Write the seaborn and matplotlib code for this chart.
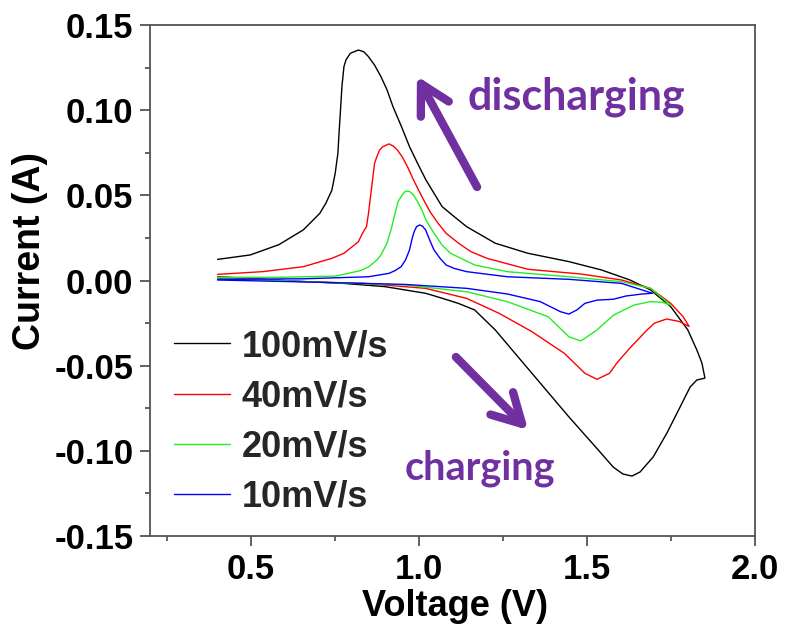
import numpy as np
import pandas as pd
import matplotlib
matplotlib.use("Agg")
import matplotlib.pyplot as plt
from matplotlib.ticker import MultipleLocator, FixedLocator
import seaborn as sns

# ---------------- data ----------------
rates = ["100mV/s", "40mV/s", "20mV/s", "10mV/s"]
colors = ["#000000", "#FF0000", "#22EE22", "#0000FF"]

v100 = [0.401, 0.498, 0.583, 0.656, 0.705, 0.723, 0.741, 0.751, 0.759, 0.763, 0.768, 0.771, 0.777, 0.783,
        0.796, 0.820, 0.836, 0.850, 0.868, 0.887, 0.905, 0.923, 0.948, 0.972, 0.996, 1.021, 1.045, 1.069,
        1.105, 1.142, 1.227, 1.324, 1.446, 1.543, 1.628, 1.689, 1.749, 1.800, 1.827, 1.842, 1.851,
        1.827, 1.807, 1.777, 1.738, 1.697, 1.658, 1.634, 1.607, 1.578, 1.539, 1.446, 1.324, 1.227,
        1.166, 1.117, 1.069, 1.020, 0.899, 0.777, 0.595, 0.401]
i100 = [0.0124, 0.0150, 0.0210, 0.0297, 0.0394, 0.0453, 0.0530, 0.0630, 0.0747, 0.0884, 0.1040, 0.1139, 0.1256, 0.1295,
        0.1334, 0.1353, 0.1343, 0.1314, 0.1265, 0.1197, 0.1120, 0.1020, 0.0904, 0.0786, 0.0688, 0.0590, 0.0512, 0.0434,
        0.0375, 0.0316, 0.0219, 0.0160, 0.0111, 0.0062, 0.0003, -0.0055, -0.0153, -0.0290, -0.0408, -0.0484, -0.0573,
        -0.0584, -0.0625, -0.0743, -0.0895, -0.1036, -0.1124, -0.1148, -0.1136, -0.1095, -0.1007, -0.0800, -0.0516, -0.0290,
        -0.0173, -0.0134, -0.0104, -0.0075, -0.0036, -0.0017, 0.0000, 0.0022]

v40 = [0.401, 0.535, 0.656, 0.741, 0.777, 0.802, 0.820, 0.832, 0.844, 0.850, 0.856, 0.862, 0.868, 0.875,
       0.883, 0.893, 0.911, 0.923, 0.936, 0.950, 0.966, 0.984, 1.009, 1.033, 1.057, 1.081, 1.118, 1.154,
       1.203, 1.324, 1.482, 1.603, 1.689, 1.749, 1.786, 1.804,
       1.774, 1.737, 1.701, 1.679, 1.628, 1.589, 1.567, 1.530, 1.494, 1.433, 1.336, 1.239, 1.142,
       1.020, 0.838, 0.656, 0.401]
i40 = [0.0036, 0.0052, 0.0081, 0.0130, 0.0160, 0.0199, 0.0228, 0.0277, 0.0316, 0.0394, 0.0492, 0.0590, 0.0688, 0.0727,
       0.0766, 0.0786, 0.0802, 0.0790, 0.0766, 0.0727, 0.0668, 0.0590, 0.0492, 0.0404, 0.0336, 0.0277, 0.0219, 0.0170,
       0.0130, 0.0066, 0.0038, 0.0003, -0.0046, -0.0134, -0.0212, -0.0270,
       -0.0240, -0.0226, -0.0250, -0.0290, -0.0396, -0.0484, -0.0545, -0.0580, -0.0545, -0.0428, -0.0300, -0.0193, -0.0105,
       -0.0046, -0.0017, -0.0007, 0.0022]

v20 = [0.401, 0.595, 0.753, 0.826, 0.851, 0.875, 0.887, 0.905, 0.917, 0.929, 0.938, 0.947, 0.957, 0.966,
       0.974, 0.984, 0.996, 1.009, 1.021, 1.045, 1.069, 1.094, 1.166, 1.263, 1.446, 1.603, 1.689, 1.749,
       1.725, 1.689, 1.640, 1.579, 1.530, 1.482, 1.446, 1.385, 1.263, 1.142, 0.959, 0.717, 0.401]
i20 = [0.0019, 0.0019, 0.0026, 0.0058, 0.0081, 0.0120, 0.0150, 0.0219, 0.0297, 0.0394, 0.0463, 0.0492, 0.0520, 0.0525,
       0.0520, 0.0502, 0.0463, 0.0414, 0.0355, 0.0277, 0.0208, 0.0160, 0.0091, 0.0052, 0.0022, -0.0007, -0.0046, -0.0144,
       -0.0128, -0.0124, -0.0144, -0.0203, -0.0290, -0.0355, -0.0330, -0.0213, -0.0124, -0.0066, -0.0026, -0.0011, 0.0013]

v10 = [0.401, 0.656, 0.850, 0.911, 0.929, 0.947, 0.960, 0.972, 0.980, 0.986, 0.993, 1.002, 1.010, 1.020,
       1.032, 1.045, 1.063, 1.081, 1.105, 1.142, 1.263, 1.446, 1.603, 1.695,
       1.665, 1.616, 1.579, 1.530, 1.494, 1.470, 1.446, 1.421, 1.361, 1.263, 1.142, 0.959, 0.717, 0.401]
i10 = [0.0007, 0.0010, 0.0022, 0.0042, 0.0058, 0.0081, 0.0120, 0.0179, 0.0248, 0.0287, 0.0316, 0.0326, 0.0320, 0.0297,
       0.0238, 0.0179, 0.0130, 0.0091, 0.0071, 0.0052, 0.0022, 0.0007, -0.0017, -0.0075,
       -0.0079, -0.0091, -0.0110, -0.0115, -0.0134, -0.0173, -0.0197, -0.0183, -0.0124, -0.0079, -0.0046, -0.0023, -0.0011, 0.0003]

x_ticks = [0.5, 1.0, 1.5, 2.0]
x_tick_labels = ["0.5", "1.0", "1.5", "2.0"]
y_ticks = [-0.15, -0.10, -0.05, 0.00, 0.05, 0.10, 0.15]
y_tick_labels = ["-0.15", "-0.10", "-0.05", "0.00", "0.05", "0.10", "0.15"]

# ---------------- build table ----------------
frames = []
for name, vv, ii in zip(rates, [v100, v40, v20, v10], [i100, i40, i20, i10]):
    frames.append(pd.DataFrame({"Voltage": vv, "Current": ii, "rate": name}))
df = pd.concat(frames, ignore_index=True)

# ---------------- style ----------------
sns.set_theme(style="ticks")
plt.rcParams["font.family"] = ["Liberation Sans", "DejaVu Sans"]
plt.rcParams["font.weight"] = "bold"

fig = plt.figure(figsize=(7.85, 6.36), dpi=100)
ax = fig.add_axes([0.1911, 0.1572, 0.7707, 0.8035])

sns.lineplot(data=df, x="Voltage", y="Current", hue="rate", hue_order=rates,
             palette=dict(zip(rates, colors)), sort=False, estimator=None,
             units="rate", linewidth=1.0, ax=ax, legend=True)

ax.set_xlim(0.2, 2.0)
ax.set_ylim(-0.15, 0.15)
ax.xaxis.set_major_locator(FixedLocator(x_ticks))
ax.set_xticklabels(x_tick_labels)
ax.xaxis.set_minor_locator(FixedLocator([0.25, 0.75, 1.25, 1.75]))
ax.yaxis.set_major_locator(FixedLocator(y_ticks))
ax.set_yticklabels(y_tick_labels)
ax.yaxis.set_minor_locator(MultipleLocator(0.025))

spine_col = "#555555"
for s in ax.spines.values():
    s.set_color(spine_col)
    s.set_linewidth(1.3)
ax.tick_params(which="major", direction="out", length=7, width=1.3, color=spine_col,
               labelsize=25, pad=5, labelcolor="black")
ax.tick_params(which="minor", direction="out", length=3.8, width=1.3, color=spine_col)
for lab in ax.get_xticklabels() + ax.get_yticklabels():
    lab.set_fontweight("bold")

ax.set_xlabel("Voltage (V)", fontsize=26, fontweight="bold", color="black")
ax.set_ylabel("Current (A)", fontsize=27, fontweight="bold", color="black")
ax.xaxis.set_label_coords(0.504, -0.104)
ax.yaxis.set_label_coords(-0.168, 0.558)

# legend
handles, labels = ax.get_legend_handles_labels()
leg = ax.legend(handles, labels, loc="upper left", bbox_to_anchor=(0.039, 0.405),
                frameon=False, fontsize=26, handlelength=1.55, handletextpad=0.33,
                labelspacing=0.42, borderpad=0.0, borderaxespad=0.0)
for t in leg.get_texts():
    t.set_fontweight("bold")
for l in leg.get_lines():
    l.set_linewidth(1.0)

# annotations
purple = "#7030A0"
arrow_kw = dict(arrowstyle="->,head_length=0.4,head_width=0.22", lw=6, color=purple,
                mutation_scale=52, shrinkA=0, shrinkB=0, capstyle="round", joinstyle="round")
ax.annotate("", xy=(0.994, 0.120), xytext=(1.173, 0.0549), arrowprops=arrow_kw)
ax.annotate("", xy=(1.325, -0.0878), xytext=(1.110, -0.0449), arrowprops=arrow_kw)
ax.text(1.146, 0.1001, "discharging", color=purple, fontsize=31, fontweight="bold",
        family=["Lato", "DejaVu Sans"], ha="left", va="baseline")
ax.text(0.959, -0.1171, "charging", color=purple, fontsize=28.5, fontweight="bold",
        family=["Lato", "DejaVu Sans"], ha="left", va="baseline")

fig.savefig("out.png", dpi=100)
